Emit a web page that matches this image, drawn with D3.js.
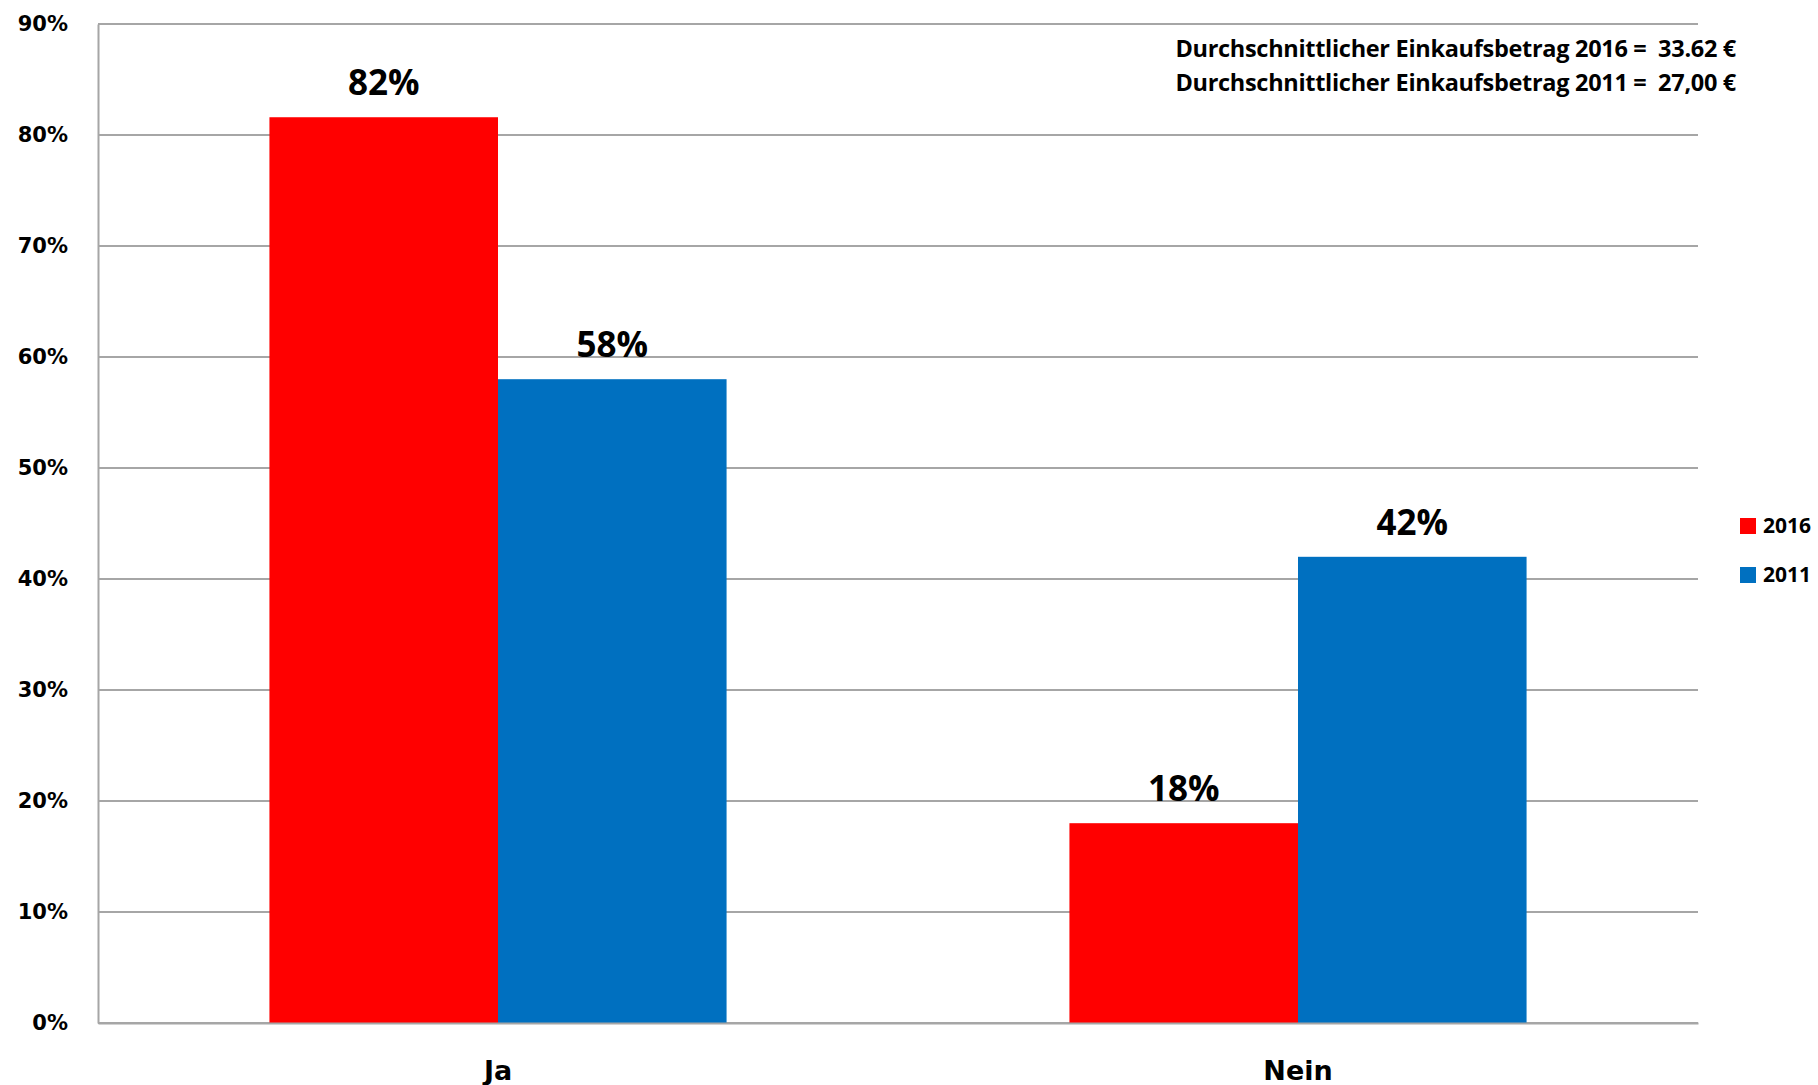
<!DOCTYPE html>
<meta charset="utf-8">
<style>
html, body { margin: 0; padding: 0; background: #fff; }
svg { display: block; }
</style>
<body>
<script src="https://d3js.org/d3.v7.min.js"></script>
<script>

var width = 1818,
    height = 1085;

// data
var categories = ["Ja", "Nein"];
var years = ["2016", "2011"];
var values2016 = [81.6, 18.0];
var values2011 = [58.0, 42.0];
var labels2016 = ["82%", "18%"];
var labels2011 = ["58%", "42%"];
var colors = ["#ff0000", "#0070c0"];
var yTicks = [0, 10, 20, 30, 40, 50, 60, 70, 80, 90];
var notes = [
  "Durchschnittlicher Einkaufsbetrag 2016 =  33.62 €",
  "Durchschnittlicher Einkaufsbetrag 2011 =  27,00 €"
];

var margin = {top: 24, right: 120, bottom: 62, left: 98};
var plotW = 1698 - margin.left,
    plotH = 1023 - margin.top;

var svg = d3.select("body").append("svg")
    .attr("width", width)
    .attr("height", height);

var g = svg.append("g")
    .attr("transform", "translate(" + margin.left + "," + margin.top + ")");

var y = d3.scaleLinear().domain([0, 90]).range([plotH, 0]);

var x0 = d3.scaleBand().domain(categories).range([0, plotW])
    .paddingInner(1.5 / 3.5).paddingOuter(0.75 / 3.5);

var x1 = d3.scaleBand().domain(years).range([0, x0.bandwidth()]);

// gridlines
g.append("g").selectAll("line")
  .data(yTicks)
  .enter().append("line")
  .attr("x1", 0).attr("x2", plotW)
  .attr("y1", function(d){ return y(d); })
  .attr("y2", function(d){ return y(d); })
  .attr("stroke", "#a6a6a6")
  .attr("stroke-width", 2);

// y axis
var yAxis = g.append("g")
  .call(d3.axisLeft(y).tickValues(yTicks).tickSize(0).tickPadding(30)
    .tickFormat(function(d){ return d + "%"; }));
yAxis.select(".domain").attr("stroke", "#a6a6a6").attr("stroke-width", 2);
yAxis.selectAll("text")
  .attr("font-family", "DejaVu Sans")
  .attr("font-weight", "bold")
  .attr("font-size", 21)
  .attr("fill", "#000");

var rows = categories.map(function(c, i){
  return [
    {cat: c, year: years[0], value: values2016[i], label: labels2016[i], color: colors[0]},
    {cat: c, year: years[1], value: values2011[i], label: labels2011[i], color: colors[1]}
  ];
});

var groups = g.selectAll("g.group")
  .data(rows)
  .enter().append("g")
  .attr("class", "group")
  .attr("transform", function(d){ return "translate(" + x0(d[0].cat) + ",0)"; });

groups.selectAll("rect")
  .data(function(d){ return d; })
  .enter().append("rect")
  .attr("x", function(d){ return x1(d.year); })
  .attr("y", function(d){ return y(d.value); })
  .attr("width", x1.bandwidth())
  .attr("height", function(d){ return plotH - y(d.value); })
  .attr("fill", function(d){ return d.color; });

groups.selectAll("text")
  .data(function(d){ return d; })
  .enter().append("text")
  .attr("x", function(d){ return x1(d.year) + x1.bandwidth() / 2; })
  .attr("y", function(d){ return y(d.value) - 22; })
  .attr("text-anchor", "middle")
  .attr("font-family", "Open Sans")
  .attr("font-weight", "bold")
  .attr("font-size", 35)
  .attr("fill", "#000")
  .text(function(d){ return d.label; });

// x axis
var xAxis = g.append("g")
  .attr("transform", "translate(0," + plotH + ")")
  .call(d3.axisBottom(x0).tickSize(0).tickPadding(38));
xAxis.select(".domain").attr("stroke", "#a6a6a6").attr("stroke-width", 2);
xAxis.selectAll("text")
  .attr("font-family", "DejaVu Sans")
  .attr("font-weight", "bold")
  .attr("font-size", 27)
  .attr("fill", "#000");

// notes
svg.append("g").selectAll("text")
  .data(notes)
  .enter().append("text")
  .attr("x", 1736)
  .attr("y", function(d, i){ return 57 + i * 34; })
  .attr("text-anchor", "end")
  .attr("font-family", "Open Sans")
  .attr("font-weight", "bold")
  .attr("font-size", 23.5)
  .attr("letter-spacing", -0.3)
  .style("white-space", "pre")
  .attr("fill", "#000")
  .text(function(d){ return d; });

// legend
var legend = svg.append("g").selectAll("g")
  .data(years)
  .enter().append("g")
  .attr("transform", function(d, i){ return "translate(1740," + (518 + i * 49) + ")"; });

legend.append("rect")
  .attr("width", 16).attr("height", 16)
  .attr("fill", function(d, i){ return colors[i]; });

legend.append("text")
  .attr("x", 23).attr("y", 15)
  .attr("font-family", "Open Sans")
  .attr("font-weight", "bold")
  .attr("font-size", 21)
  .attr("fill", "#000")
  .text(function(d){ return d; });

</script>
</body>
